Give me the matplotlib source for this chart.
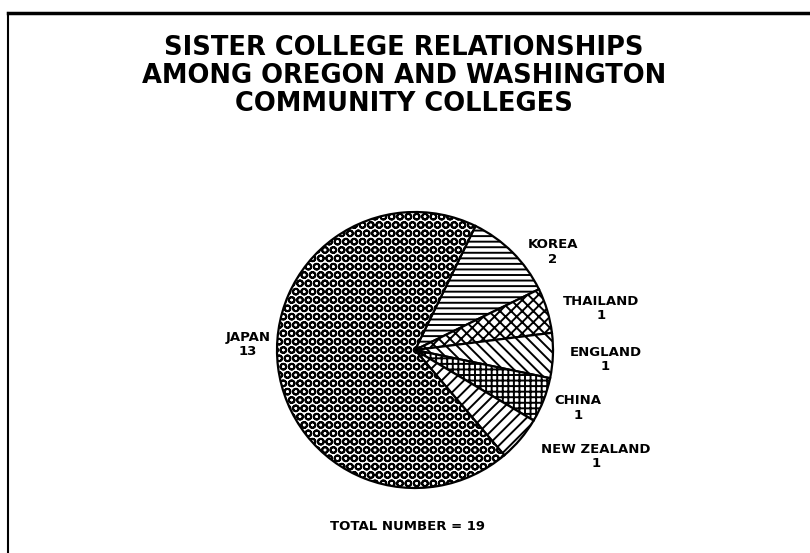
import matplotlib
matplotlib.use("Agg")
import matplotlib.pyplot as plt
from matplotlib.lines import Line2D

countries = ["KOREA", "THAILAND", "ENGLAND", "CHINA", "NEW ZEALAND", "JAPAN"]
counts = [2, 1, 1, 1, 1, 13]
hatches = ["---", "xxx", "\\\\\\", "+++", "///", "OO"]
title_lines = ["SISTER COLLEGE RELATIONSHIPS",
               "AMONG OREGON AND WASHINGTON",
               "COMMUNITY COLLEGES"]
total_label = "TOTAL NUMBER = 19"

plt.rcParams["hatch.linewidth"] = 1.4
plt.rcParams["font.family"] = ["DejaVu Sans"]

W, H = 810, 553
fig = plt.figure(figsize=(W / 100, H / 100), dpi=100)
fig.patch.set_facecolor("white")

# frame: top and left rules
fig.add_artist(Line2D([8 / W, 1.0], [1 - 13 / H, 1 - 13 / H], color="black", lw=2.5,
                      transform=fig.transFigure))
fig.add_artist(Line2D([8 / W, 8 / W], [0, 1 - 13 / H], color="black", lw=1.5,
                      transform=fig.transFigure))

# title
for i, line in enumerate(title_lines):
    fig.text(404 / W, 1 - (48 + 28 * i) / H, line, ha="center", va="center",
             fontsize=18.5, fontweight="bold")

cx, cy, r = 415, 553 - 350, 138
ax = fig.add_axes([(cx - r) / W, (cy - r) / H, 2 * r / W, 2 * r / H])
wedges, _ = ax.pie(counts, startangle=64, counterclock=False, radius=1.0,
                   wedgeprops=dict(facecolor="white", edgecolor="black",
                                   linewidth=1.6))
for w, h in zip(wedges, hatches):
    w.set_hatch(h)
ax.set_xlim(-1, 1)
ax.set_ylim(-1, 1)
ax.set_aspect("equal")
ax.axis("off")

# label positions (data units of the pie axes)
label_pos = [(1.0, 0.71), (1.35, 0.30), (1.38, -0.07), (1.18, -0.42),
             (1.31, -0.77), (-1.21, 0.04)]
for name, n, (lx, ly) in zip(countries, counts, label_pos):
    ax.text(lx, ly, f"{name}\n{n}", ha="center", va="center", fontsize=9.5,
            fontweight="bold", linespacing=1.15, clip_on=False)

fig.text(408 / W, 1 - 527 / H, total_label, ha="center", va="center",
         fontsize=9.5, fontweight="bold")

fig.savefig("out.png", dpi=100)
